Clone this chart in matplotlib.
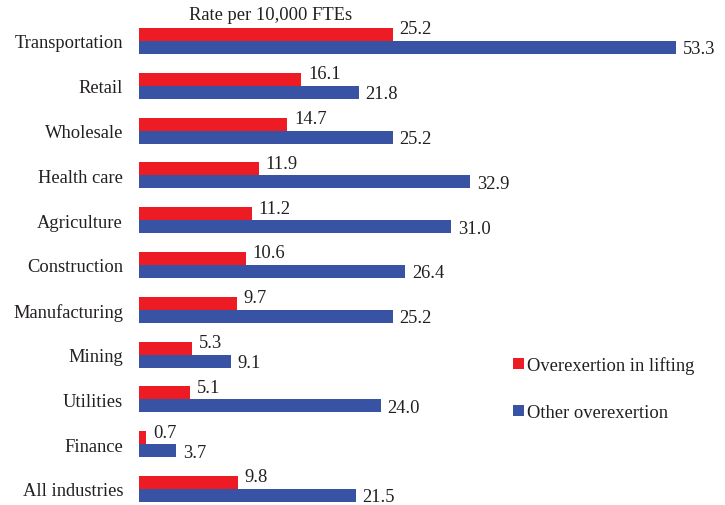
import matplotlib.pyplot as plt
import numpy as np

# Données
industries = ['Transportation', 'Retail', 'Wholesale', 'Health care', 'Agriculture',
              'Construction', 'Manufacturing', 'Mining', 'Utilities', 'Finance',
              'All industries']
lifting = [25.2, 16.1, 14.7, 11.9, 11.2, 10.6, 9.7, 5.3, 5.1, 0.7, 9.8]
other = [53.3, 21.8, 25.2, 32.9, 31.0, 26.4, 25.2, 9.1, 24.0, 3.7, 21.5]

plt.rcParams['font.family'] = ['Liberation Serif', 'DejaVu Serif']
plt.rcParams['font.size'] = 13.3

fig = plt.figure(figsize=(7.25, 5.06), dpi=100)
ax = fig.add_axes([139 / 725, 0, 586 / 725, 486 / 506])

y = np.arange(len(industries))
h = 0.29
red = '#ED1C24'
blue = '#3953A4'

b1 = ax.barh(y - h / 2, lifting, height=h, color=red, label='Overexertion in lifting')
b2 = ax.barh(y + h / 2, other, height=h, color=blue, label='Other overexertion')

# Étiquettes de valeurs
for rect, v in zip(b1, lifting):
    ax.annotate(f'{v:.1f}', (rect.get_width(), rect.get_y() + rect.get_height() / 2),
                xytext=(5, 4), textcoords='offset points', va='center', ha='left',
                color='#231F20')
for rect, v in zip(b2, other):
    ax.annotate(f'{v:.1f}', (rect.get_width(), rect.get_y() + rect.get_height() / 2),
                xytext=(5, -1), textcoords='offset points', va='center', ha='left',
                color='#231F20')

ax.set_xlim(0, 586 / 10.07)
ax.set_ylim(10 + 16 / 44.8, -22 / 44.8)
ax.set_yticks(y)
ax.set_yticklabels(industries, color='#231F20')
ax.tick_params(axis='y', length=0, pad=11.5)
ax.set_xticks([])
for s in ax.spines.values():
    s.set_visible(False)

fig.text(271 / 725, 1 - 16 / 506, 'Rate per 10,000 FTEs', ha='center', va='center',
         color='#231F20')

ax.legend(loc='upper left', bbox_to_anchor=(504 / 725, 1 - 348 / 506),
          bbox_transform=fig.transFigure, frameon=False, handlelength=0.6,
          handleheight=0.6, handletextpad=0.15, labelspacing=1.62, borderpad=0,
          labelcolor='#231F20')

plt.savefig('out.png', dpi=100)
plt.close()
